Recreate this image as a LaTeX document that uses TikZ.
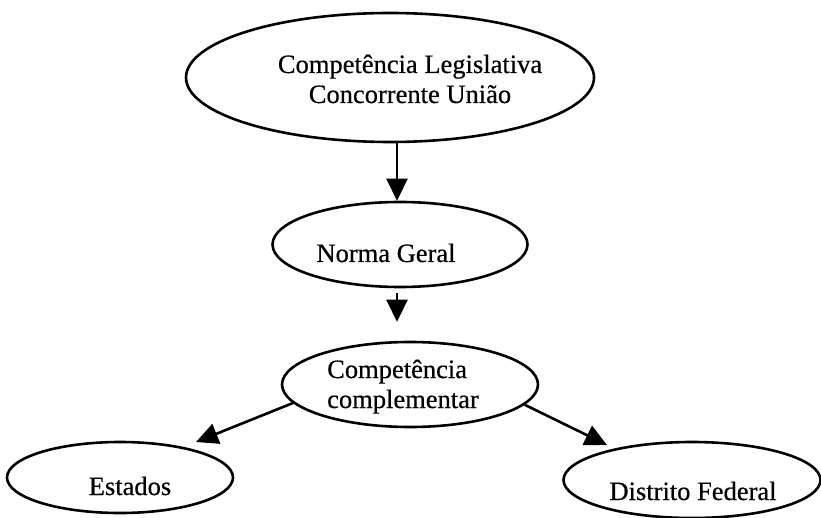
\documentclass[tikz,border=0pt]{standalone}
\usepackage{fontspec}
\setmainfont{Liberation Serif}
\usetikzlibrary{shapes.geometric,arrows.meta}
\begin{document}
\begin{tikzpicture}[x=1pt,y=-1pt,
  oval/.style={draw, line width=2.6pt, ellipse, inner sep=0pt},
  lbl/.style={inner sep=0pt, anchor=base, font=\fontsize{26.5}{30}\selectfont\addfontfeature{FakeBold=0.5}},
  arr/.style={line width=2.6pt, -{Triangle[length=22pt,width=21pt]}}]
\useasboundingbox (0,0) rectangle (821,518);
% ellipses
\node[oval, minimum width=408pt, minimum height=129pt] (uniao) at (390,77.5) {};
\node[oval, minimum width=255pt, minimum height=85pt] (norma) at (400,244.5) {};
\node[oval, minimum width=256pt, minimum height=85pt] (comp) at (410,384.5) {};
\node[oval, minimum width=226pt, minimum height=71pt] (estados) at (120,477.5) {};
\node[oval, minimum width=257pt, minimum height=76pt] (df) at (692,480) {};
% labels
\node[lbl] at (410,73) {\begin{tabular}[t]{@{}c@{}}Competência Legislativa\\Concorrente União\end{tabular}};
\node[lbl] at (386,262) {Norma Geral};
\node[lbl, anchor=base west] at (327,378) {\begin{tabular}[t]{@{}l@{}}Competência\\complementar\end{tabular}};
\node[lbl] at (130,495) {Estados};
\node[lbl] at (693,500) {Distrito Federal};
% free arrow ends
\coordinate (tipE) at (196,442);
\coordinate (tipD) at (607,445);
% connectors
\draw[arr] (uniao.south -| 397,0) -- (norma.north -| 397,0);
\draw[arr] ([yshift=-5pt]norma.south -| 397,0) -- ([yshift=19pt]comp.north -| 397,0);
\draw[arr] (comp.189) -- (tipE);
\draw[arr] (comp.-10) -- (tipD);
\end{tikzpicture}
\end{document}
